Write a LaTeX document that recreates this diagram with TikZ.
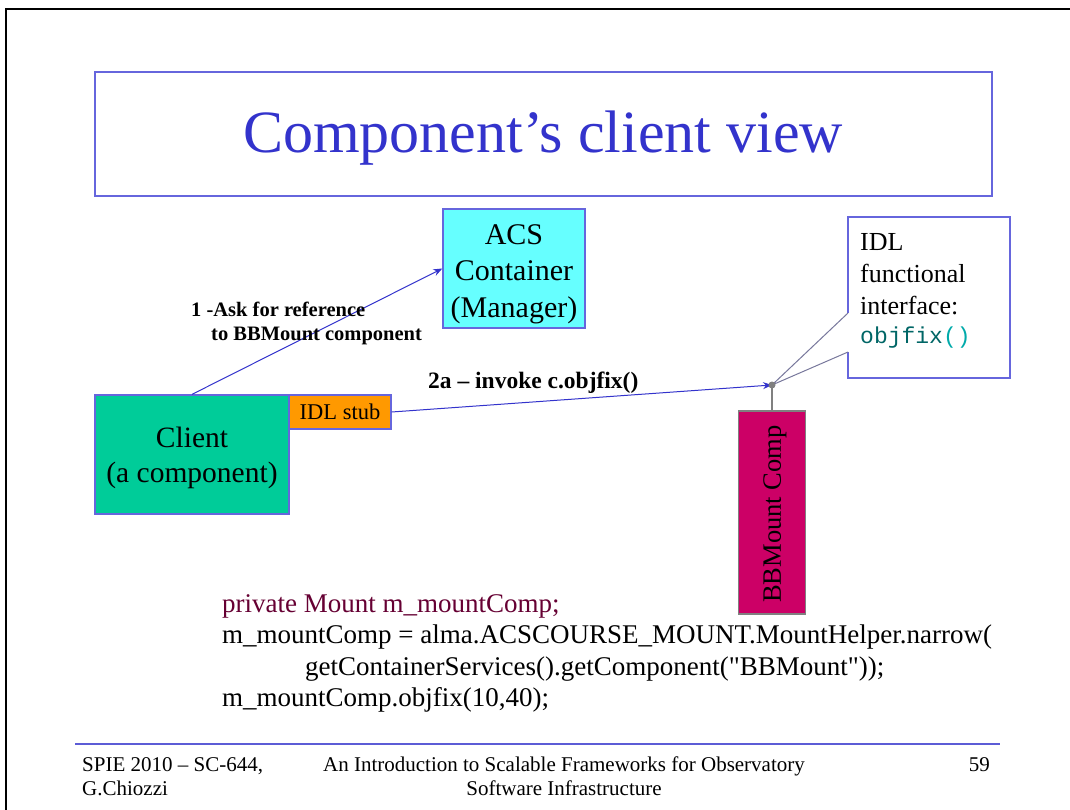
\documentclass[tikz,border=0pt]{standalone}
\usepackage{fontspec}
\setmainfont{Liberation Serif}
\setmonofont{Liberation Mono}
\newfontfamily\codefont{Liberation Serif}[Ligatures=TeXOff]
\usetikzlibrary{arrows.meta}
\definecolor{titleblue}{RGB}{51,51,204}
\definecolor{boxblue}{RGB}{102,102,221}
\definecolor{arrowblue}{RGB}{51,51,204}
\definecolor{acscyan}{RGB}{102,255,255}
\definecolor{clientgreen}{RGB}{0,204,153}
\definecolor{stuborange}{RGB}{255,153,0}
\definecolor{bbmag}{RGB}{204,0,102}
\definecolor{codered}{RGB}{102,0,51}
\definecolor{tealdark}{RGB}{0,102,102}
\definecolor{teallight}{RGB}{0,170,170}
\definecolor{connectgray}{RGB}{128,128,128}
\tikzset{
  px/.style={x=1pt,y=-1pt},
  boxstyle/.style={draw=boxblue,line width=1.3pt,inner sep=0pt},
  boxtext/.style={inner sep=0pt,align=center,text=black},
  lbl/.style={font=\fontsize{20.5}{24}\selectfont\bfseries,inner sep=0pt,text=black},
  codetxt/.style={font=\codefont\fontsize{27}{31}\selectfont,inner sep=0pt,anchor=base west},
  foot/.style={font=\fontsize{21}{24}\selectfont,inner sep=0pt,anchor=base},
  conn/.style={draw=arrowblue,line width=1pt},
}
\begin{document}
\begin{tikzpicture}[px]
\useasboundingbox (0,0) rectangle (1070,810);
\fill[white] (0,0) rectangle (1070,810);
% slide frame
\draw[line width=2pt,black] (6,820) -- (6,9) -- (1080,9);
% title
\node[draw=boxblue,line width=1.3pt,minimum width=897pt,minimum height=124pt,inner sep=0pt] (titlebox) at (543.5,134) {};
\node[text=titleblue,font=\fontsize{60}{70}\selectfont,inner sep=0pt] (title) at (543,138) {Component’s client view};
% ACS container
\node[boxstyle,fill=acscyan,minimum width=142pt,minimum height=119pt] (acs) at (514,268.5) {};
\node[boxtext,font=\fontsize{30}{36.5}\selectfont] (acstext) at (514,274) {ACS\\Container\\(Manager)};
% client
\node[boxstyle,fill=clientgreen,minimum width=194pt,minimum height=119pt] (client) at (192,454.5) {};
\node[boxtext,font=\fontsize{29.5}{35}\selectfont] (clienttext) at (192,458) {Client\\(a component)};
% IDL stub
\node[boxstyle,fill=stuborange,minimum width=102pt,minimum height=34pt,font=\fontsize{22.5}{26}\selectfont,text=black] (stub) at (340,412) {IDL stub};
% BBMount
\node[draw=connectgray,line width=1.5pt,fill=bbmag,minimum width=67pt,minimum height=203pt,inner sep=0pt] (bbm) at (772,512.5) {};
\node[rotate=90,font=\fontsize{26.5}{30}\selectfont,text=black,inner sep=0pt] (bbmtext) at (775,514) {BBMount Comp};
% junction point
\coordinate (dot) at (772,385);
% IDL functional interface callout
\fill[white] (848,217) -- (1010,217) -- (1010,378) -- (848,378) -- (848,352) -- (dot) -- (848,313) -- cycle;
\draw[boxblue,line width=1.3pt] (848,313) -- (848,217) -- (1010,217) -- (1010,378) -- (848,378) -- (848,352);
\draw[connectgray!70!boxblue,line width=1pt] (848,313) -- (dot) -- (848,352);
\node[anchor=north west,align=left,inner sep=0pt,font=\fontsize{26}{32}\selectfont,text=black] (idl) at (860,233) {IDL\\functional\\interface:\\[-3pt]{\fontsize{23}{32}\selectfont\ttfamily\textcolor{tealdark}{objfix}\textcolor{teallight}{()}}};
% connectors
\draw[conn,-{Stealth[length=9pt,width=7pt]}] (client.north) -- (acs.west);
\draw[conn,-{Stealth[length=9pt,width=7pt]}] (stub.east) -- (dot);
\draw[connectgray,line width=2pt] (dot) -- (bbm.north);
\fill[connectgray] (dot) circle (3.5pt);
% labels
\node[lbl,anchor=north west,align=left] (lbl1) at (191,302) {1 -Ask for reference\\\hspace*{20pt}to BBMount component};
\node[lbl,font=\fontsize{23.5}{27}\selectfont\bfseries,anchor=base west] (lbl2) at (428,388) {2a – invoke c.objfix()};
% code
\node[codetxt,text=codered] (code1) at (222,612) {private Mount m\_mountComp;};
\node[codetxt] (code2) at (222,643) {m\_mountComp = alma.ACSCOURSE\_MOUNT.MountHelper.narrow(};
\node[codetxt] (code3) at (305,675) {getContainerServices().getComponent("BBMount"));};
\node[codetxt] (code4) at (222,706) {m\_mountComp.objfix(10,40);};
% footer
\draw[titleblue!80!white,line width=2pt] (75,744) -- (1000,744);
\node[foot,anchor=base west] (f1) at (82,771) {SPIE 2010 – SC-644,};
\node[foot,anchor=base west] (f2) at (82,795) {G.Chiozzi};
\node[foot] (f3) at (564,771) {An Introduction to Scalable Frameworks for Observatory};
\node[foot] (f4) at (564,795) {Software Infrastructure};
\node[foot,anchor=base east] (f5) at (990,771) {59};
\end{tikzpicture}
\end{document}
